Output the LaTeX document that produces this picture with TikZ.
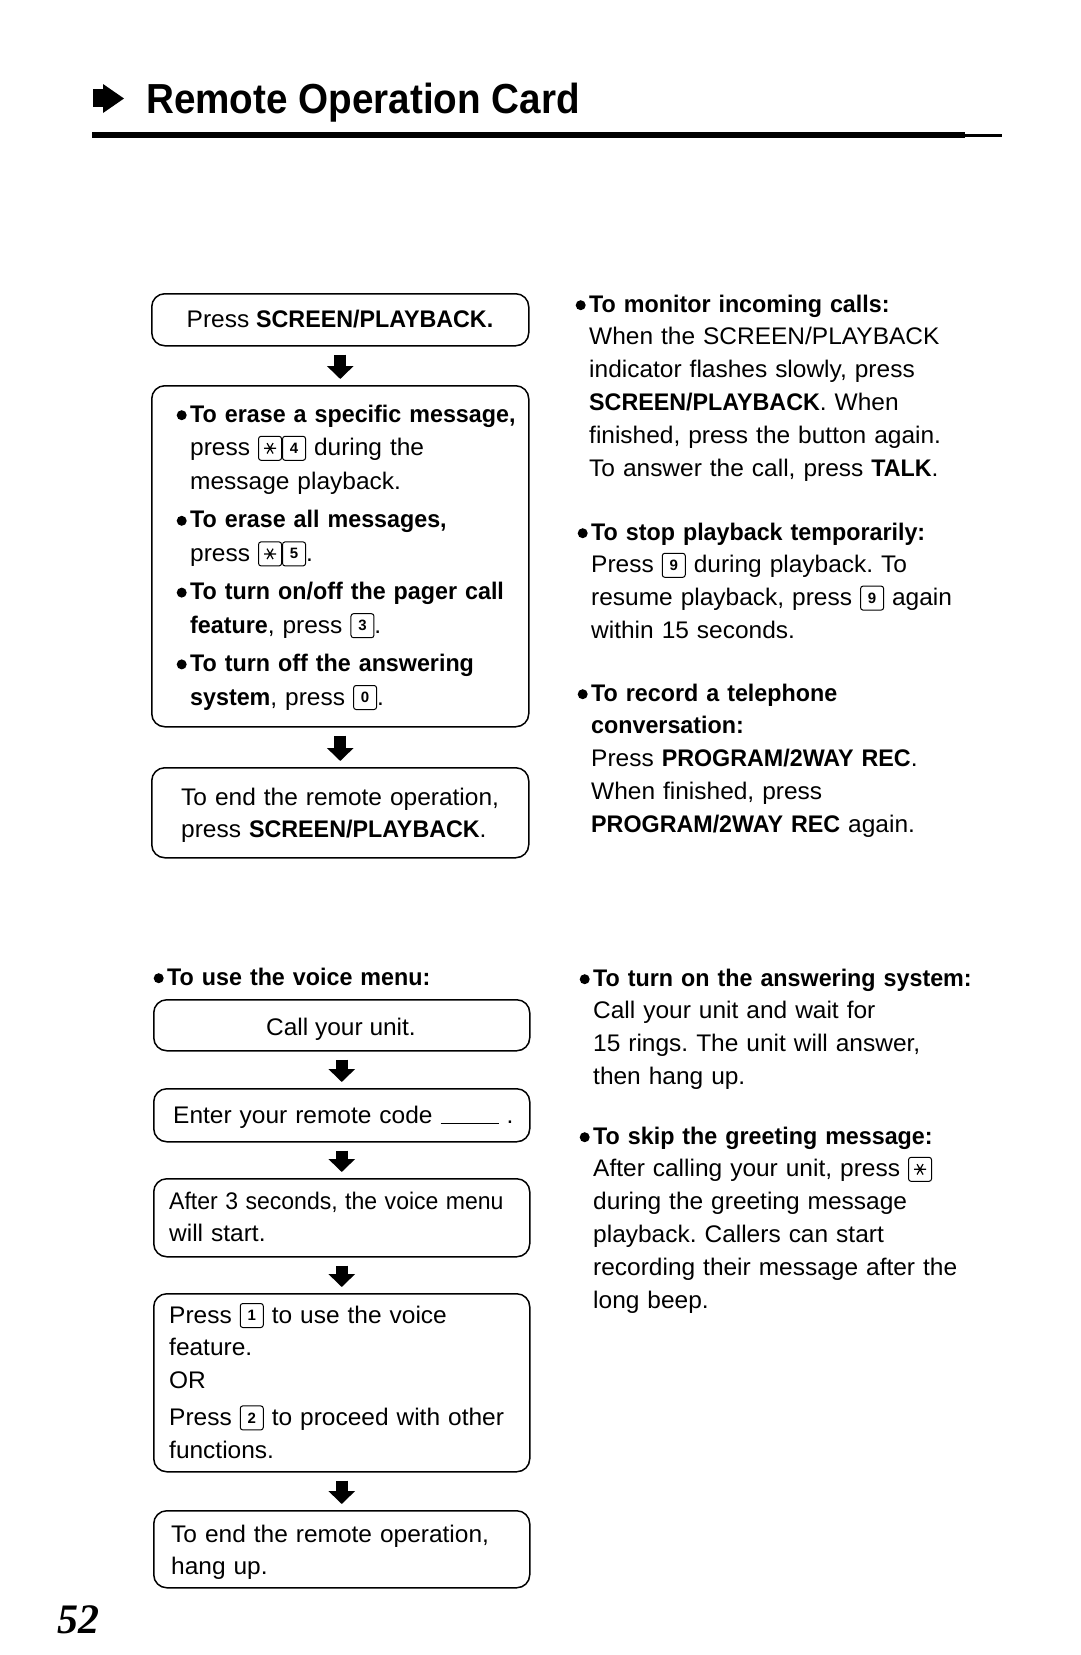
\documentclass[tikz,border=0pt]{standalone}
\usepackage{fontspec}
\setmainfont{Liberation Sans}[FakeStretch=1.02, BoldFeatures={FakeStretch=0.97}]
\newfontfamily\titlefont{Liberation Sans}[FakeStretch=0.92]
\newfontfamily\keyfont{Liberation Sans}
\newfontfamily\pagefont{Liberation Serif}
\usetikzlibrary{arrows.meta}
\frenchspacing

\tikzset{
  keybox/.style={draw, line width=1pt, rounded corners=2.5pt, minimum width=23pt,
    minimum height=24pt, inner sep=0pt, font=\keyfont\bfseries\fontsize{15}{15}\selectfont},
  box/.style={draw, line width=1.5pt, rounded corners=13pt, inner sep=0pt, anchor=north west},
  txt/.style={anchor=base west, align=left, text width=440pt, inner sep=0pt, font=\fontsize{24}{32.8}\selectfont},
  ctr/.style={anchor=base, inner sep=0pt, font=\fontsize{24}{32.8}\selectfont},
  flow/.style={line width=12pt, -{Triangle[width=26pt,length=13pt]}, shorten <=8pt, shorten >=6pt},
}
\newcommand\kbox[1]{\tikz[baseline=0pt,x=1pt,y=1pt]\node[keybox,anchor=south west] (kb) at (0,-5) {#1};}
\newcommand\kstar{\tikz[baseline=0pt,x=1pt,y=1pt]{\node[keybox,anchor=south west] (ks) at (0,-5) {};
  \draw[line width=1.2pt] ([shift={(0:6)}]ks.center) -- ([shift={(180:6)}]ks.center)
    ([shift={(60:6)}]ks.center) -- ([shift={(240:6)}]ks.center)
    ([shift={(120:6)}]ks.center) -- ([shift={(300:6)}]ks.center);}}
\newcommand\bul{\leavevmode\llap{\tikz[baseline=0pt,x=1pt,y=1pt]\fill (0,6.8) circle (5);\hspace{3.5pt}}}

\begin{document}
\begin{tikzpicture}[x=1pt,y=-1pt]
\useasboundingbox (0,0) rectangle (1080,1655);

% heading
\fill (93,89) rectangle (104,107);
\fill (103,84) -- (124,98.5) -- (103,113) -- cycle;
\node[anchor=base west, inner sep=0pt, font=\titlefont\bfseries\fontsize{42}{42}\selectfont] (title) at (146,113) {Remote Operation Card};
\draw[line width=6pt] (92,135) -- (965,135);
\draw[line width=3pt] (965,135) -- (1002,135);

% upper flow
\node[box, minimum width=377pt, minimum height=52pt] (b1) at (151,293) {};
\node[box, minimum width=377pt, minimum height=341pt] (b2) at (151,385) {};
\node[box, minimum width=377pt, minimum height=90pt] (b3) at (151,767) {};
\draw[flow] (b1.south) -- (b2.north);
\draw[flow] (b2.south) -- (b3.north);

\node[ctr] (t1) at (340,327) {Press \textbf{SCREEN/PLAYBACK.}};
\node[txt, font=\fontsize{24}{33.8}\selectfont] (t2) at (190,422) {\bul\textbf{To erase a specific message,}\\
press \kstar\kbox{4} during the\\
message playback.\\[4.2pt]
\bul\textbf{To erase all messages,}\\
press \kstar\kbox{5}.\\[4.2pt]
\bul\textbf{To turn on/off the pager call}\\
\textbf{feature}, press \kbox{3}.\\[4.2pt]
\bul\textbf{To turn off the answering}\\
\textbf{system}, press \kbox{0}.};
\node[txt] (t3) at (181,805) {To end the remote operation,\\
press \textbf{SCREEN/PLAYBACK}.};

% upper right
\node[txt] (r1) at (589,312) {\bul\textbf{To monitor incoming calls:}\\
When the SCREEN/PLAYBACK\\
indicator flashes slowly, press\\
\textbf{SCREEN/PLAYBACK}. When\\
finished, press the button again.\\
To answer the call, press \textbf{TALK}.};
\node[txt] (r2) at (591,540) {\bul\textbf{To stop playback temporarily:}\\
Press \kbox{9} during playback. To\\
resume playback, press \kbox{9} again\\
within 15 seconds.};
\node[txt] (r3) at (591,701) {\bul\textbf{To record a telephone}\\
\textbf{conversation:}\\
Press \textbf{PROGRAM/2WAY REC}.\\
When finished, press\\
\textbf{PROGRAM/2WAY REC} again.};

% lower flow
\node[txt] (v0) at (167,985) {\bul\textbf{To use the voice menu:}};
\node[box, minimum width=376pt, minimum height=51pt] (vA) at (153,999) {};
\node[box, minimum width=376pt, minimum height=53pt] (vB) at (153,1088) {};
\node[box, minimum width=376pt, minimum height=78pt] (vC) at (153,1178) {};
\node[box, minimum width=376pt, minimum height=178pt] (vD) at (153,1293) {};
\node[box, minimum width=376pt, minimum height=77pt] (vE) at (153,1510) {};
\draw[flow] (vA.south) -- (vB.north);
\draw[flow] (vB.south) -- (vC.north);
\draw[flow] (vC.south) -- (vD.north);
\draw[flow] (vD.south) -- (vE.north);

\node[ctr] (tA) at (341,1035) {Call your unit.};
\node[txt] (tB) at (173,1123) {Enter your remote code \rule[-1pt]{58pt}{1pt} .};
\node[txt] (tC) at (169,1209) {\scalebox{0.94}[1]{After 3 seconds, the voice menu}\\
will start.};
\node[txt] (tD) at (169,1323) {Press \kbox{1} to use the voice\\
feature.\\
OR\\[4pt]
Press \kbox{2} to proceed with other\\
functions.};
\node[txt] (tE) at (171,1542) {To end the remote operation,\\
hang up.};

% lower right
\node[txt] (w1) at (593,986) {\bul\textbf{To turn on the answering system:}\\
Call your unit and wait for\\
15 rings. The unit will answer,\\
then hang up.};
\node[txt] (w2) at (593,1144) {\bul\textbf{To skip the greeting message:}\\
After calling your unit, press \kstar\\
during the greeting message\\
playback. Callers can start\\
recording their message after the\\
long beep.};

% page number
\node[anchor=base west, inner sep=0pt, font=\pagefont\bfseries\itshape\fontsize{42}{42}\selectfont] (pg) at (57,1633) {52};
\end{tikzpicture}
\end{document}
